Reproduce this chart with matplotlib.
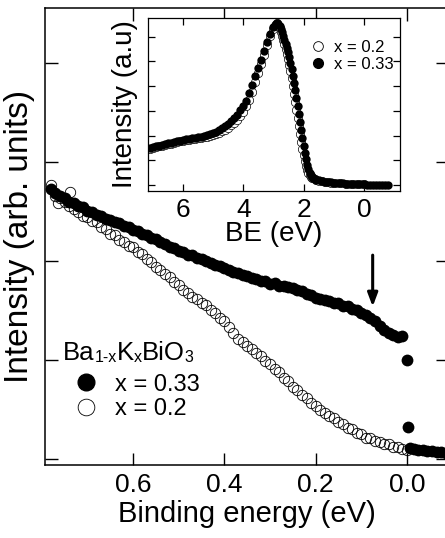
import matplotlib
matplotlib.use("Agg")
import matplotlib.pyplot as plt
from matplotlib.lines import Line2D

plt.rcParams['font.family'] = ['Liberation Sans', 'DejaVu Sans']

# ---- main panel: near-EF spectra of Ba1-xKxBiO3 ----
be_033 = [0.78, 0.77, 0.76, 0.75, 0.74, 0.73, 0.72, 0.71, 0.70, 0.69,
          0.68, 0.67, 0.66, 0.65, 0.64, 0.63, 0.62, 0.61, 0.60, 0.59,
          0.58, 0.57, 0.56, 0.55, 0.54, 0.53, 0.52, 0.51, 0.50, 0.49,
          0.48, 0.47, 0.46, 0.45, 0.44, 0.43, 0.42, 0.41, 0.40, 0.39,
          0.38, 0.37, 0.36, 0.35, 0.34, 0.33, 0.32, 0.31, 0.30, 0.29,
          0.28, 0.27, 0.26, 0.25, 0.24, 0.23, 0.22, 0.21, 0.20, 0.19,
          0.18, 0.17, 0.16, 0.15, 0.14, 0.13, 0.12, 0.11, 0.10, 0.09,
          0.08, 0.07, 0.06, 0.05, 0.04, 0.03, 0.02, 0.01, 0.0, -0.002,
          -0.007, -0.015, -0.025, -0.035, -0.045, -0.055, -0.065, -0.075, -0.085]
int_033 = [2.73, 2.69, 2.66, 2.64, 2.60, 2.59, 2.56, 2.55, 2.51, 2.50,
           2.47, 2.46, 2.43, 2.42, 2.39, 2.38, 2.35, 2.34, 2.31, 2.30,
           2.27, 2.26, 2.23, 2.22, 2.19, 2.17, 2.14, 2.13, 2.10, 2.09,
           2.06, 2.06, 2.03, 2.02, 2.00, 1.98, 1.96, 1.95, 1.93, 1.91,
           1.89, 1.88, 1.86, 1.85, 1.83, 1.82, 1.80, 1.80, 1.77, 1.78,
           1.75, 1.75, 1.74, 1.73, 1.71, 1.70, 1.67, 1.66, 1.63, 1.62,
           1.61, 1.60, 1.58, 1.58, 1.55, 1.55, 1.52, 1.51, 1.48, 1.46,
           1.43, 1.39, 1.34, 1.30, 1.27, 1.25, 1.23, 1.24, 1.00, 0.32,
           0.11, 0.10, 0.09, 0.09, 0.08, 0.08, 0.07, 0.07, 0.06]

be_020 = [0.78, 0.77, 0.765, 0.76, 0.75, 0.74, 0.738, 0.73, 0.72, 0.71, 0.70,
          0.69, 0.68, 0.67, 0.66, 0.65, 0.64, 0.63, 0.62, 0.61, 0.60,
          0.59, 0.58, 0.57, 0.56, 0.55, 0.54, 0.53, 0.52, 0.51, 0.50,
          0.49, 0.48, 0.47, 0.46, 0.45, 0.44, 0.43, 0.42, 0.41, 0.40,
          0.39, 0.38, 0.37, 0.36, 0.35, 0.34, 0.33, 0.32, 0.31, 0.30,
          0.29, 0.28, 0.27, 0.26, 0.25, 0.24, 0.23, 0.22, 0.21, 0.20,
          0.19, 0.18, 0.17, 0.16, 0.15, 0.14, 0.13, 0.12, 0.11, 0.10,
          0.09, 0.08, 0.07, 0.06, 0.05, 0.04, 0.03, 0.02, 0.01, 0.0]
int_020 = [2.77, 2.66, 2.59, 2.64, 2.60, 2.56, 2.70, 2.53, 2.50, 2.46, 2.45,
           2.40, 2.39, 2.34, 2.32, 2.27, 2.26, 2.21, 2.19, 2.15, 2.14,
           2.09, 2.07, 2.02, 1.99, 1.94, 1.91, 1.87, 1.84, 1.79, 1.76,
           1.71, 1.68, 1.64, 1.62, 1.58, 1.56, 1.51, 1.48, 1.43, 1.39,
           1.33, 1.27, 1.21, 1.18, 1.14, 1.11, 1.07, 1.04, 0.99, 0.96,
           0.91, 0.88, 0.82, 0.79, 0.73, 0.70, 0.65, 0.62, 0.57, 0.54,
           0.50, 0.47, 0.43, 0.41, 0.37, 0.35, 0.31, 0.30, 0.26, 0.25,
           0.21, 0.21, 0.18, 0.17, 0.15, 0.15, 0.12, 0.12, 0.10, 0.09]

arrow_be = 0.075
arrow_top = 2.06
arrow_tip = 1.54

# ---- inset: wide valence band ----
be_wide_020 = [7.1, 7.0, 6.9, 6.8, 6.7, 6.6, 6.5, 6.4, 6.3, 6.2, 6.1, 6.0,
               5.9, 5.8, 5.7, 5.6, 5.5, 5.4, 5.3, 5.2, 5.1, 5.0, 4.9, 4.8,
               4.7, 4.6, 4.5, 4.4, 4.3, 4.2, 4.1, 4.0, 3.9, 3.8, 3.7, 3.6,
               3.5, 3.4, 3.3, 3.2, 3.1, 3.0, 2.96, 2.92, 2.88, 2.84, 2.80,
               2.76, 2.72, 2.68, 2.64, 2.60, 2.56, 2.52, 2.48, 2.44, 2.40,
               2.36, 2.32, 2.28, 2.24, 2.20, 2.16, 2.12, 2.08, 2.04, 2.00,
               1.96, 1.92, 1.88, 1.84, 1.80, 1.76, 1.72, 1.68, 1.64, 1.60,
               1.5, 1.4, 1.3, 1.2, 1.1, 1.0, 0.8, 0.6, 0.4, 0.2, 0.0]
int_wide_020 = [1.45, 1.49, 1.53, 1.56, 1.59, 1.62, 1.65, 1.68, 1.71, 1.74, 1.77, 1.79,
                1.82, 1.84, 1.86, 1.88, 1.90, 1.92, 1.94, 1.96, 1.99, 2.02, 2.06, 2.11,
                2.17, 2.24, 2.32, 2.41, 2.52, 2.64, 2.79, 2.97, 3.18, 3.45, 3.78, 4.15,
                4.52, 4.90, 5.28, 5.66, 6.02, 6.33, 6.43, 6.51, 6.54, 6.48, 6.35,
                6.20, 6.04, 5.88, 5.70, 5.52, 5.32, 5.10, 4.86, 4.60, 4.32,
                4.02, 3.70, 3.38, 3.05, 2.72, 2.39, 2.07, 1.76, 1.47, 1.20,
                0.96, 0.76, 0.60, 0.48, 0.40, 0.34, 0.30, 0.27, 0.24, 0.22,
                0.18, 0.15, 0.13, 0.12, 0.10, 0.09, 0.07, 0.06, 0.05, 0.04, 0.03]

be_wide_033 = [7.1, 7.0, 6.9, 6.8, 6.7, 6.6, 6.5, 6.4, 6.3, 6.2, 6.1, 6.0,
               5.9, 5.8, 5.7, 5.6, 5.5, 5.4, 5.3, 5.2, 5.1, 5.0, 4.9, 4.8,
               4.7, 4.6, 4.5, 4.4, 4.3, 4.2, 4.1, 4.0, 3.9, 3.8, 3.7, 3.6,
               3.5, 3.4, 3.3, 3.2, 3.1, 3.0, 2.96, 2.92, 2.88, 2.84, 2.80,
               2.76, 2.72, 2.68, 2.64, 2.60, 2.56, 2.52, 2.48, 2.44, 2.40,
               2.36, 2.32, 2.28, 2.24, 2.20, 2.16, 2.12, 2.08, 2.04, 2.00,
               1.96, 1.92, 1.88, 1.84, 1.80, 1.76, 1.72, 1.68, 1.64, 1.60,
               1.5, 1.4, 1.3, 1.2, 1.1, 1.0, 0.9, 0.8, 0.7, 0.6, 0.5, 0.4,
               0.3, 0.2, 0.1, 0.0, -0.1, -0.2, -0.3, -0.4, -0.5, -0.6, -0.7, -0.8]
int_wide_033 = [1.50, 1.53, 1.57, 1.60, 1.63, 1.66, 1.69, 1.71, 1.74, 1.77, 1.80, 1.82,
                1.85, 1.88, 1.90, 1.92, 1.94, 1.96, 1.98, 2.01, 2.05, 2.10, 2.16, 2.22,
                2.30, 2.38, 2.48, 2.59, 2.71, 2.85, 3.02, 3.20, 3.42, 3.72, 4.05, 4.40,
                4.72, 5.07, 5.42, 5.78, 6.10, 6.38, 6.46, 6.53, 6.56, 6.52, 6.44,
                6.32, 6.18, 6.03, 5.88, 5.72, 5.55, 5.37, 5.17, 4.95, 4.70,
                4.43, 4.14, 3.84, 3.53, 3.21, 2.88, 2.55, 2.22, 1.90, 1.59,
                1.30, 1.04, 0.82, 0.64, 0.50, 0.40, 0.33, 0.28, 0.24, 0.21,
                0.19, 0.16, 0.14, 0.12, 0.11, 0.10, 0.09, 0.08, 0.07, 0.06, 0.06, 0.05,
                0.04, 0.04, 0.03, 0.03, 0.02, 0.02, 0.01, 0.01, 0.00, 0.00, -0.01, -0.01]

main_xticks = [0.6, 0.4, 0.2, 0.0]
main_yticks = [0, 1, 2, 3, 4]
inset_xticks = [6, 4, 2, 0]
inset_yticks = [0, 1, 2, 3, 4, 5, 6]

fig = plt.figure(figsize=(4.45, 5.38), dpi=100)

ax = fig.add_axes([0.1011, 0.1357, 0.9056, 0.8493])
ax.plot(be_033, int_033, 'o', color='black', markersize=8.5, markeredgewidth=0)
ax.plot(be_020, int_020, 'o', markerfacecolor='none', markeredgecolor='black',
        markersize=7.5, markeredgewidth=0.6)
ax.set_xlim(0.793, -0.09)
ax.set_ylim(-0.06, 4.556)
ax.set_xticks(main_xticks)
ax.set_xticklabels(['%.1f' % t for t in main_xticks])
ax.set_yticks(main_yticks)
ax.set_yticklabels([])
ax.tick_params(direction='in', length=9, width=1.0, top=True, right=True,
               labelsize=19, pad=6)
for s in ax.spines.values():
    s.set_linewidth(1.1)
ax.set_xlabel('Binding energy (eV)', fontsize=21, labelpad=2)
ax.set_ylabel('Intensity (arb. units)', fontsize=24, labelpad=1)

ax.annotate('', xy=(arrow_be, arrow_tip), xytext=(arrow_be, arrow_top),
            arrowprops=dict(arrowstyle='-|>,head_length=0.8,head_width=0.3',
                            color='black', lw=2.2, shrinkA=0, shrinkB=0))

# compound formula with small subscripts sitting near the baseline
pieces = [('Ba', 18.5), ('1-x', 11.5), ('K', 18.5), ('x', 11.5), ('BiO', 18.5), ('3', 11.5)]
prev = ax.text(0.045, 0.23, pieces[0][0], fontsize=pieces[0][1],
               transform=ax.transAxes, va='baseline', ha='left')
for txt, fs in pieces[1:]:
    prev = ax.annotate(txt, xy=(1, 0), xycoords=prev, fontsize=fs,
                       va='bottom', ha='left')

main_handles = [Line2D([], [], ls='none', marker='o', color='black', markersize=12),
                Line2D([], [], ls='none', marker='o', markerfacecolor='none',
                       markeredgecolor='black', markersize=12, markeredgewidth=0.6)]
ax.legend(main_handles, ['x = 0.33', 'x = 0.2'], loc='upper left',
          bbox_to_anchor=(0.072, 0.2), frameon=False, fontsize=17,
          handlelength=1.0, handletextpad=0.75, labelspacing=0.12, borderpad=0,
          borderaxespad=0)

ins = fig.add_axes([0.3326, 0.645, 0.566, 0.3216])
ins.plot(be_wide_020, int_wide_020, 'o', markerfacecolor='white', markeredgecolor='black',
         markersize=6, markeredgewidth=0.5)
ins.plot(be_wide_033, int_wide_033, 'o', color='black', markersize=6, markeredgewidth=0)
ins.set_xlim(7.16, -1.19)
ins.set_ylim(-0.24, 6.76)
ins.set_xticks(inset_xticks)
ins.set_yticks(inset_yticks)
ins.set_yticklabels([])
ins.tick_params(direction='in', length=5, width=0.9, top=True, right=True,
                labelsize=19, pad=5)
for s in ins.spines.values():
    s.set_linewidth(0.9)
ins.set_xlabel('BE (eV)', fontsize=20, labelpad=-1)
ins.set_ylabel('Intensity (a.u)', fontsize=20, labelpad=2)

ins_handles = [Line2D([], [], ls='none', marker='o', markerfacecolor='white',
                      markeredgecolor='black', markersize=7, markeredgewidth=0.6),
               Line2D([], [], ls='none', marker='o', color='black', markersize=7)]
ins.legend(ins_handles, ['x = 0.2', 'x = 0.33'], loc='upper left',
           bbox_to_anchor=(0.64, 0.875), frameon=False, fontsize=12,
           handlelength=1.0, handletextpad=0.5, labelspacing=0.15, borderpad=0,
           borderaxespad=0)

fig.savefig('out.png', dpi=100)
